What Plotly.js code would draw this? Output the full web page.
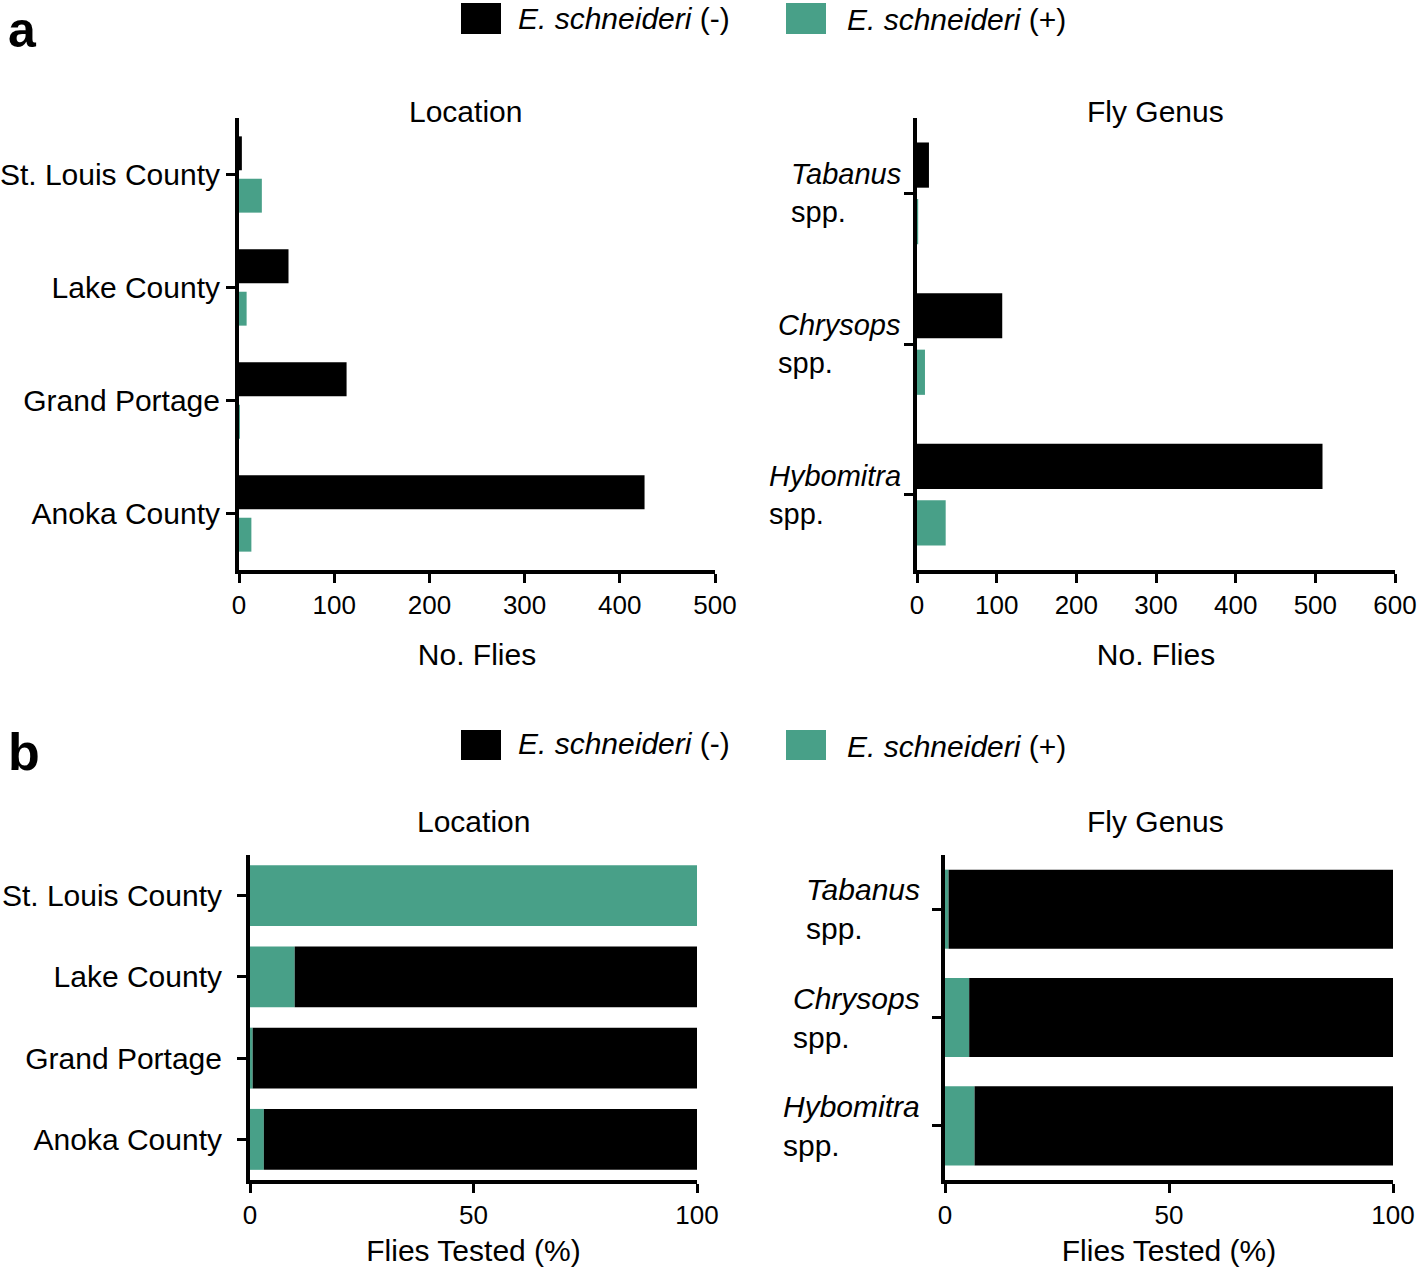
<!DOCTYPE html>
<html>
<head>
<meta charset="utf-8">
<script src="https://cdn.plot.ly/plotly-3.0.1.min.js"></script>
<style>
  html, body { margin: 0; padding: 0; background: #ffffff; }
  #chart { width: 1418px; height: 1272px; }
</style>
</head>
<body>
<div id="chart"></div>
<script>
// ---- data ----
const locations = ['St. Louis County', 'Lake County', 'Grand Portage', 'Anoka County'];
const locNeg = [3, 52, 113, 426];          // E. schneideri (-) counts
const locPos = [24, 8, 1, 13];             // E. schneideri (+) counts
const genera = ['Tabanus', 'Chrysops', 'Hybomitra'];
const genusNeg = [15, 107, 509];
const genusPos = [1.5, 10, 36];
const locPctPos = [100, 10, 0.6, 3.1];     // % positive
const locPctNeg = [0, 90, 99.4, 96.9];     // % negative
const genusPctPos = [0.8, 5.4, 6.6];
const genusPctNeg = [99.2, 94.6, 93.4];
const seriesNames = ['<i>E. schneideri</i> (-)', '<i>E. schneideri</i> (+)'];
const countTicks = [0, 100, 200, 300, 400, 500, 600];
const pctTicks = [0, 50, 100];

// ---- style ----
const W = 1418, H = 1272;
const BLACK = '#000000';
const GREEN = '#48a088';
const FONT = '"Liberation Sans", Arial, Helvetica, sans-serif';
const px = x => x / W;
const py = y => 1 - y / H;

const traces = [
  // a: Location
  {type: 'bar', orientation: 'h', y: locations, x: locNeg, name: seriesNames[0],
   marker: {color: BLACK}, xaxis: 'x', yaxis: 'y', showlegend: false},
  {type: 'bar', orientation: 'h', y: locations, x: locPos, name: seriesNames[1],
   marker: {color: GREEN}, xaxis: 'x', yaxis: 'y', showlegend: false},
  // a: Fly genus
  {type: 'bar', orientation: 'h', y: genera, x: genusNeg, name: seriesNames[0],
   marker: {color: BLACK}, xaxis: 'x2', yaxis: 'y2', showlegend: false},
  {type: 'bar', orientation: 'h', y: genera, x: genusPos, name: seriesNames[1],
   marker: {color: GREEN}, xaxis: 'x2', yaxis: 'y2', showlegend: false},
  // b: Location (stacked %)
  {type: 'bar', orientation: 'h', y: locations, x: locPctPos, base: 0, name: seriesNames[1],
   marker: {color: GREEN}, width: 0.75, offset: -0.375, xaxis: 'x3', yaxis: 'y3', showlegend: false},
  {type: 'bar', orientation: 'h', y: locations, x: locPctNeg, base: locPctPos, name: seriesNames[0],
   marker: {color: BLACK}, width: 0.75, offset: -0.375, xaxis: 'x3', yaxis: 'y3', showlegend: false},
  // b: Fly genus (stacked %)
  {type: 'bar', orientation: 'h', y: genera, x: genusPctPos, base: 0, name: seriesNames[1],
   marker: {color: GREEN}, width: 0.73, offset: -0.365, xaxis: 'x4', yaxis: 'y4', showlegend: false},
  {type: 'bar', orientation: 'h', y: genera, x: genusPctNeg, base: genusPctPos, name: seriesNames[0],
   marker: {color: BLACK}, width: 0.73, offset: -0.365, xaxis: 'x4', yaxis: 'y4', showlegend: false}
];

function xAxis(domain, anchor, range, ticks, title, standoff) {
  return {
    domain: domain, anchor: anchor, range: range,
    tickmode: 'array', tickvals: ticks, ticktext: ticks.map(String),
    showline: true, linewidth: 4, linecolor: BLACK, mirror: false,
    ticks: 'outside', ticklen: 9, tickwidth: 3, tickcolor: BLACK,
    showgrid: false, zeroline: false, fixedrange: true,
    tickfont: {family: FONT, size: 26, color: BLACK},
    title: {text: title, font: {family: FONT, size: 30, color: BLACK}, standoff: standoff}
  };
}
function yAxis(domain, anchor, cats, showLabels, standoff) {
  return {
    domain: domain, anchor: anchor, type: 'category',
    categoryorder: 'array', categoryarray: cats,
    range: [cats.length - 0.5, -0.5],
    showline: true, linewidth: 4, linecolor: BLACK,
    ticks: 'outside', ticklen: 9, tickwidth: 3, tickcolor: BLACK,
    showgrid: false, zeroline: false, fixedrange: true,
    showticklabels: showLabels, ticklabelstandoff: standoff || 0,
    tickfont: {family: FONT, size: 30, color: BLACK}
  };
}

const yTop = [py(570), py(118)];
const yBot = [py(1180), py(855)];

const annotations = [];
function addText(text, x, y, size, opts) {
  annotations.push(Object.assign({
    text: text, xref: 'paper', yref: 'paper', x: px(x), y: py(y),
    xanchor: 'center', yanchor: 'middle', showarrow: false,
    font: {family: FONT, size: size, color: BLACK}
  }, opts || {}));
}
// panel letters
addText('<b>a</b>', 6, 0, 50, {xanchor: 'left', yanchor: 'top'});
addText('<b>b</b>', 6, 752, 52, {xanchor: 'left'});
// subplot titles
addText('Location', 465, 112, 30);
addText('Fly Genus', 1155, 112, 30);
addText('Location', 473, 821, 30);
addText('Fly Genus', 1155, 821, 30);
// legend texts
addText(seriesNames[0], 516, 18, 30, {xanchor: 'left'});
addText(seriesNames[1], 845, 20, 30, {xanchor: 'left'});
addText(seriesNames[0], 516, 743, 30, {xanchor: 'left'});
addText(seriesNames[1], 845, 746, 30, {xanchor: 'left'});
// genus tick labels (left aligned two-line blocks)
genera.forEach(g => {
  annotations.push({text: '<i>' + g + '</i><br>spp.', xref: 'paper', yref: 'y2',
    x: px(903), y: g, xanchor: 'right', yanchor: 'middle', align: 'left', showarrow: false,
    font: {family: FONT, size: 29, color: BLACK}});
  annotations.push({text: '<i>' + g + '</i><br>spp.', xref: 'paper', yref: 'y4',
    x: px(922), y: g, xanchor: 'right', yanchor: 'middle', align: 'left', showarrow: false,
    font: {family: FONT, size: 30, color: BLACK}});
});

// legend swatches
const shapes = [];
[[3, 34], [730, 760]].forEach(([t, b]) => {
  shapes.push({type: 'rect', xref: 'paper', yref: 'paper', x0: px(461), x1: px(501), y0: py(b), y1: py(t),
    fillcolor: BLACK, line: {width: 0}});
  shapes.push({type: 'rect', xref: 'paper', yref: 'paper', x0: px(786), x1: px(826), y0: py(b), y1: py(t),
    fillcolor: GREEN, line: {width: 0}});
});

const layout = {
  width: W, height: H,
  margin: {l: 0, r: 0, t: 0, b: 0},
  paper_bgcolor: '#ffffff', plot_bgcolor: '#ffffff',
  barmode: 'group', bargap: 0.25, bargroupgap: 0.2,
  showlegend: false,
  font: {family: FONT, color: BLACK},
  xaxis: xAxis([px(239), px(715)], 'y', [0, 500], countTicks.slice(0, 6), 'No. Flies', 26),
  yaxis: yAxis(yTop, 'x', locations, true, 0),
  xaxis2: xAxis([px(917), px(1395)], 'y2', [0, 600], countTicks, 'No. Flies', 26),
  yaxis2: yAxis(yTop, 'x2', genera, false, 0),
  xaxis3: xAxis([px(250), px(697)], 'y3', [0, 100], pctTicks, 'Flies Tested (%)', 12),
  yaxis3: yAxis(yBot, 'x3', locations, true, 9),
  xaxis4: xAxis([px(945), px(1393)], 'y4', [0, 100], pctTicks, 'Flies Tested (%)', 12),
  yaxis4: yAxis(yBot, 'x4', genera, false, 0),
  annotations: annotations,
  shapes: shapes
};

Plotly.newPlot('chart', traces, layout, {displayModeBar: false, staticPlot: true});
</script>
</body>
</html>
